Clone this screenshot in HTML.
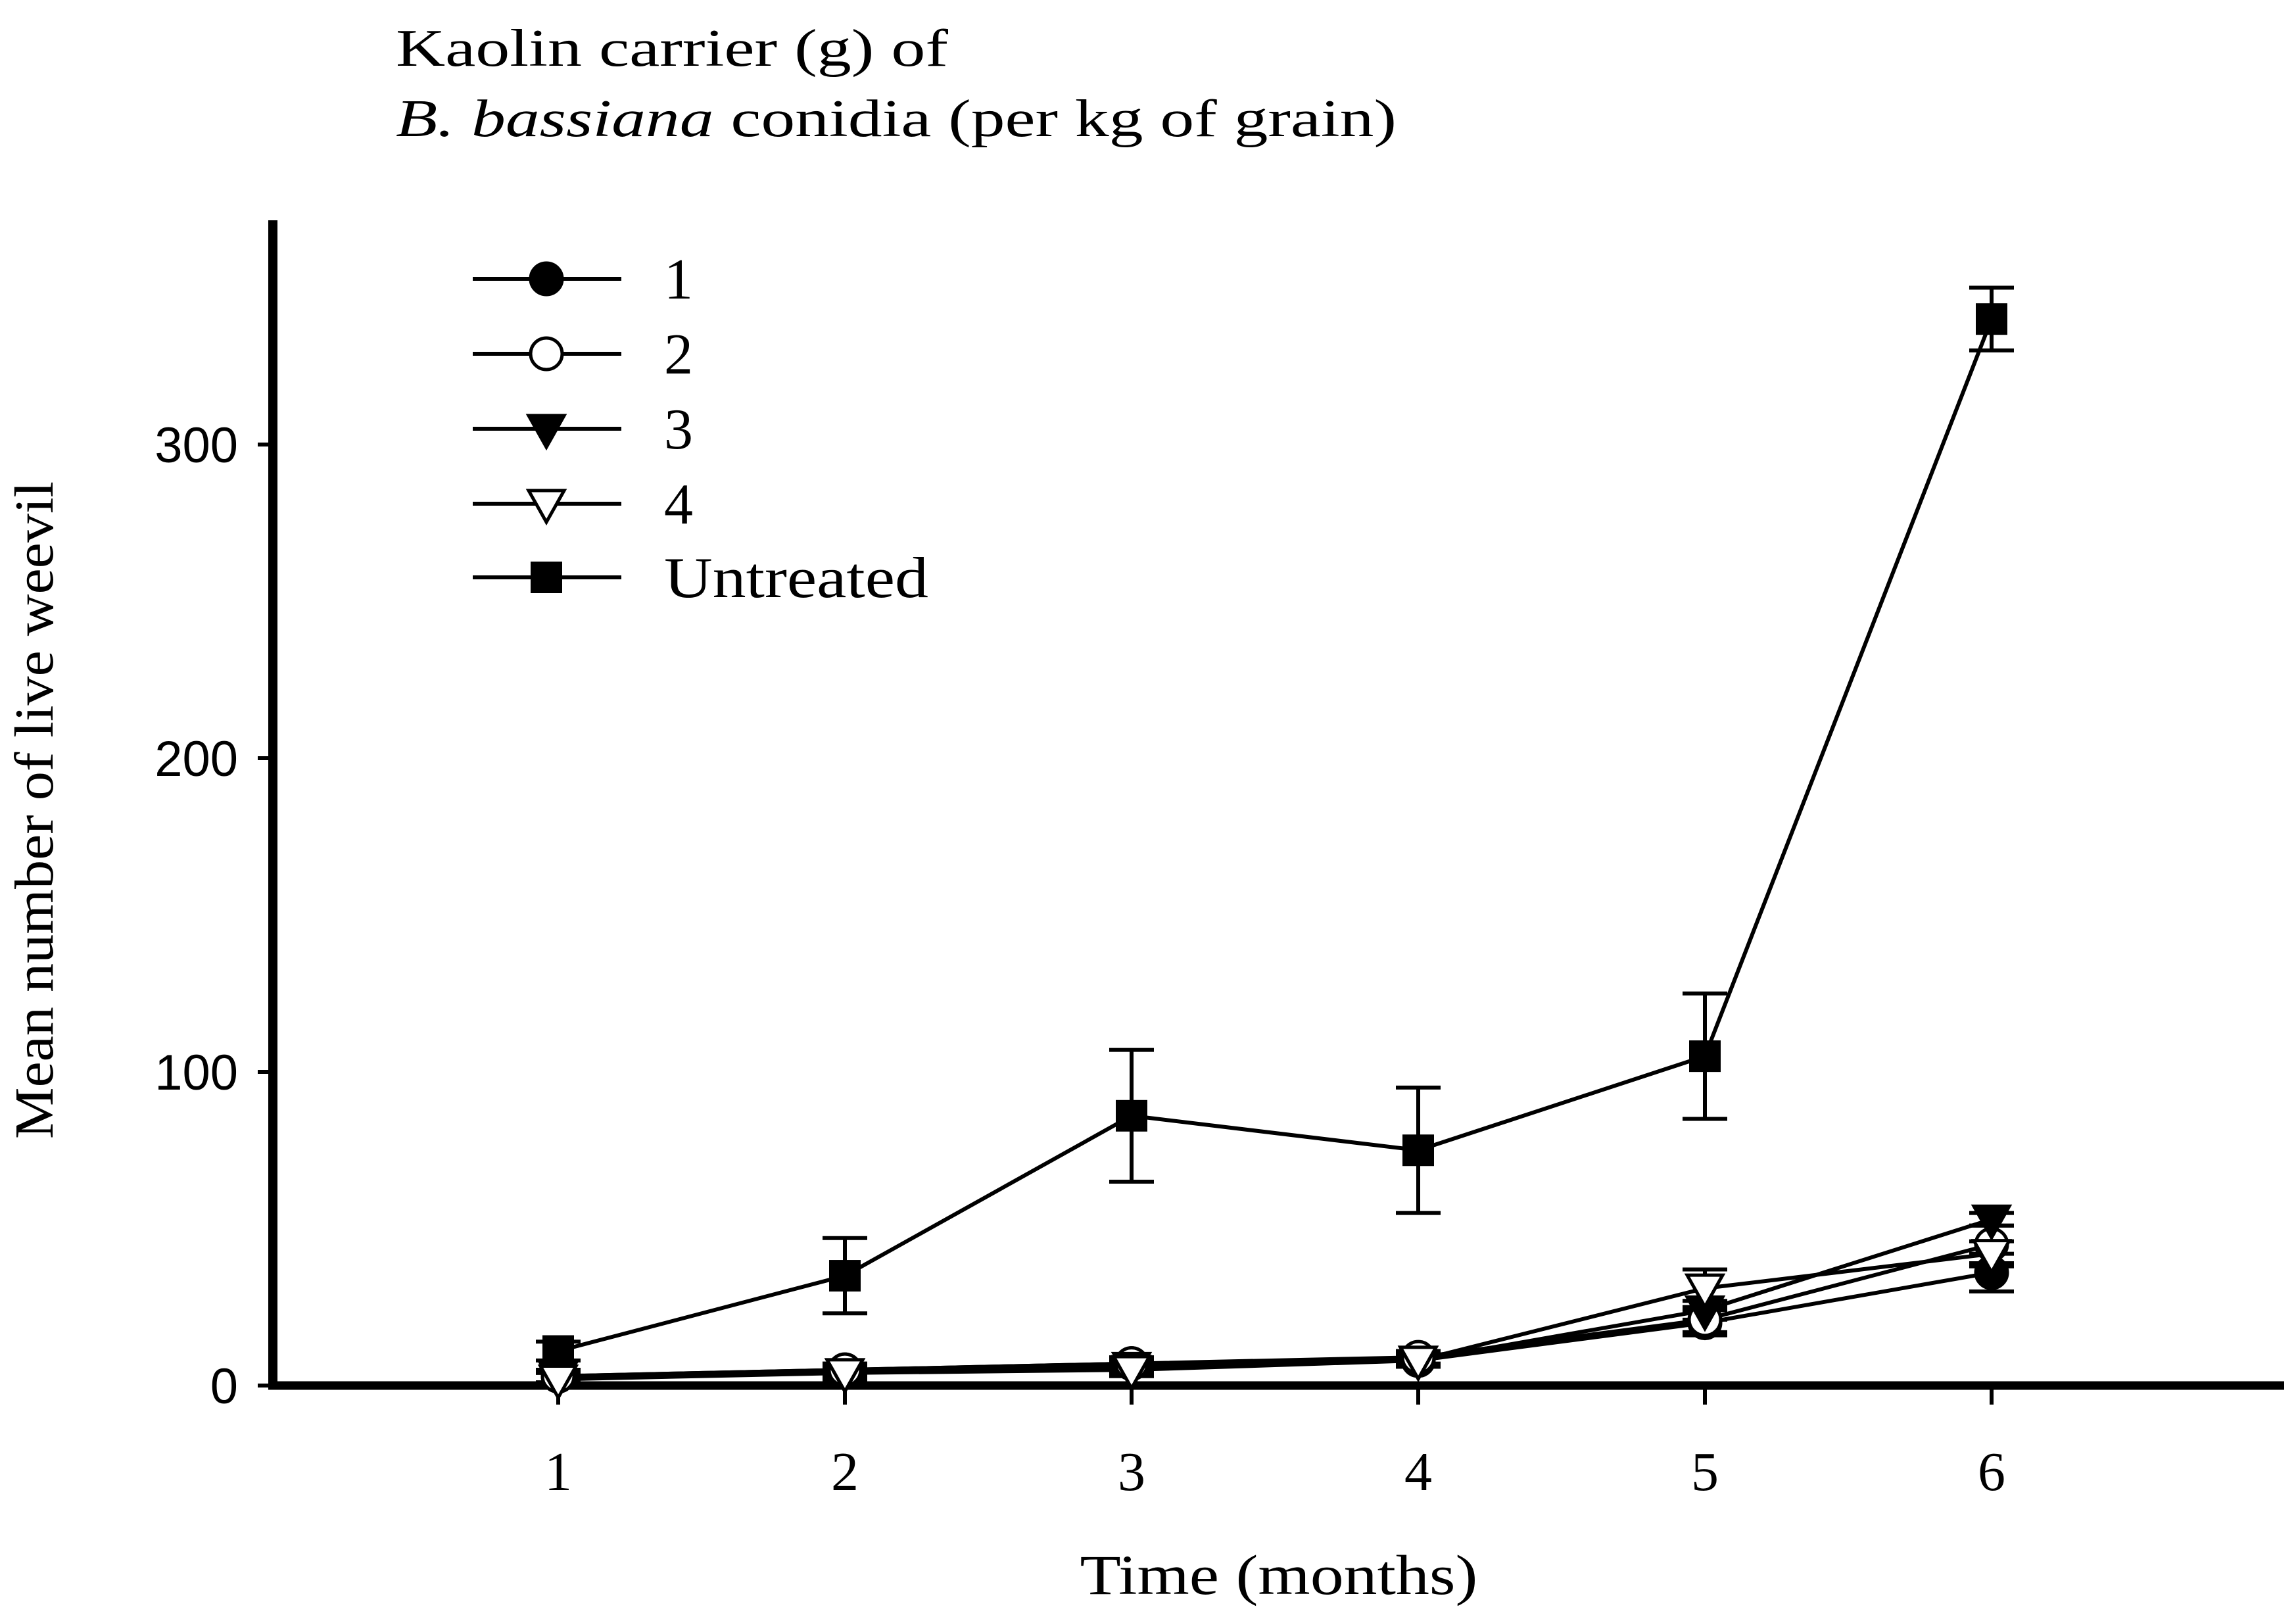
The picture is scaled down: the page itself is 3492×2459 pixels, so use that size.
<!DOCTYPE html>
<html><head><meta charset="utf-8"><style>
html,body{margin:0;padding:0;background:#fff;}
svg{display:block;}
text{font-family:"Liberation Serif",serif;fill:#000;}
</style></head><body>
<svg id="chart" width="3492" height="2459" viewBox="0 0 3492 2459" xmlns="http://www.w3.org/2000/svg">
<g>
<text x="602" y="100" font-size="80" textLength="840" lengthAdjust="spacingAndGlyphs">Kaolin carrier (g) of</text>
<text x="602" y="207" font-size="80" textLength="1522" lengthAdjust="spacingAndGlyphs"><tspan font-style="italic">B. bassiana</tspan> conidia (per kg of grain)</text>
</g>
<text transform="translate(80,1232) rotate(-90)" text-anchor="middle" font-size="84" textLength="1000" lengthAdjust="spacingAndGlyphs">Mean number of live weevil</text>
<text x="1945" y="2424" text-anchor="middle" font-size="86" textLength="605" lengthAdjust="spacingAndGlyphs">Time (months)</text>
<g id="axes"></g>
<g id="marks"></g>
<g id="legend"></g>
</svg>
<script>
const months = [1,2,3,4,5,6];
const yTicks = [0,100,200,300];
const seriesNames = ["1","2","3","4","Untreated"];
const s1 = [3,5,7,8,20,36];
const s2 = [3,5,7,9,21,45];
const s3 = [3,4,6,8,24,53];
const s4 = [2,4,5,8,31,42];
const sU = [11,35,86,75,105,340];
const e1 = [2,2,2,2,4,6];
const e2 = [2,2,2,2,4,6];
const e3 = [2,2,2,2,3,2];
const e4 = [2,2,2,2,6,4];
const eU = [3,12,21,20,20,10];

const NS="http://www.w3.org/2000/svg";
const X0=849, XS=436, Y0=2107, YS=4.77;
const xs=m=>X0+(m-1)*XS;
const ys=v=>Y0-v*YS;
function mk(tag,attrs,parent){const e=document.createElementNS(NS,tag);for(const k in attrs)e.setAttribute(k,attrs[k]);parent.appendChild(e);return e;}
const axes=document.getElementById('axes'), marks=document.getElementById('marks'), legend=document.getElementById('legend');

let l=mk('line',{x1:415,y1:335,x2:415,y2:2113,stroke:'#000','stroke-width':14},axes);


l=mk('line',{x1:408,y1:Y0,x2:3474,y2:Y0,stroke:'#000','stroke-width':13},axes);


yTicks.forEach(v=>{
  const t=mk('line',{x1:392,y1:ys(v),x2:415,y2:ys(v),stroke:'#000','stroke-width':6},axes);
  
  
  const tx=mk('text',{x:362,y:ys(v)+27,'text-anchor':'end','font-size':76,style:'font-family:"Liberation Sans",sans-serif'},axes);
  tx.textContent=v;
  
  
});
months.forEach(m=>{
  const t=mk('line',{x1:xs(m),y1:Y0,x2:xs(m),y2:2136,stroke:'#000','stroke-width':6},axes);
  
  
  const tx=mk('text',{x:xs(m),y:2266,'text-anchor':'middle','font-size':84},axes);
  tx.textContent=m;
  
  
});

function marker(type,cx,cy,parent){
  let e;
  if(type==='fc'||type==='oc') e=mk('circle',{cx:cx,cy:cy,r:24,fill:type==='fc'?'#000':'#fff',stroke:'#000','stroke-width':5},parent);
  else if(type==='ft'||type==='ot') e=mk('polygon',{points:`${cx-27},${cy-20} ${cx+27},${cy-20} ${cx},${cy+28}`,fill:type==='ft'?'#000':'#fff',stroke:'#000','stroke-width':5},parent);
  else e=mk('rect',{x:cx-24,y:cy-24,width:48,height:48,fill:'#000'},parent);
  return e;
}
const all=[[s1,e1,'fc','series-1'],[s2,e2,'oc','series-2'],[s3,e3,'ft','series-3'],[s4,e4,'ot','series-4'],[sU,eU,'sq','series-untreated']];
all.forEach(([d,err,t,name])=>{
  d.forEach((v,i)=>{
    const x=xs(months[i]);
    const g=mk('g',{stroke:'#000','stroke-width':6},marks);
    
    
    mk('line',{x1:x,y1:ys(v-err[i]),x2:x,y2:ys(v+err[i])},g);
    mk('line',{x1:x-34,y1:ys(v-err[i]),x2:x+34,y2:ys(v-err[i])},g);
    mk('line',{x1:x-34,y1:ys(v+err[i]),x2:x+34,y2:ys(v+err[i])},g);
  });
});
all.forEach(([d,err,t,name])=>{
  const p=mk('polyline',{points:d.map((v,i)=>xs(months[i])+','+ys(v)).join(' '),fill:'none',stroke:'#000','stroke-width':6},marks);
  
  
});
all.forEach(([d,err,t,name])=>{
  d.forEach((v,i)=>{
    const m=marker(t,xs(months[i]),ys(v),marks);
    
    
  });
});
const ly=[424,538,652,766,878];
all.forEach(([d,err,t,name],i)=>{
  const g=mk('g',{},legend);
  
  
  mk('line',{x1:719,y1:ly[i],x2:945,y2:ly[i],stroke:'#000','stroke-width':6},g);
  marker(t,831,ly[i],g);
  const attrs={x:1010,y:ly[i]+30,'font-size':88};
  if(seriesNames[i].length>3){attrs.textLength=402;attrs.lengthAdjust='spacingAndGlyphs';}
  const tx=mk('text',attrs,g);
  tx.textContent=seriesNames[i];
});
</script>
</body></html>
